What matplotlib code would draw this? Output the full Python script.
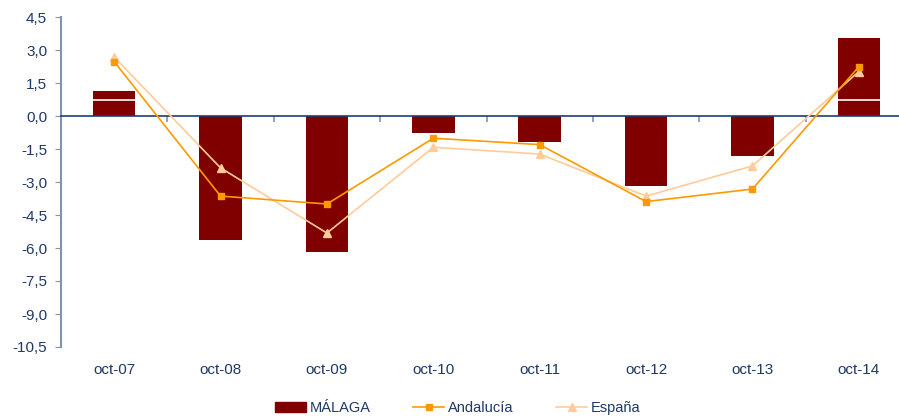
import matplotlib
matplotlib.use("Agg")
import matplotlib.pyplot as plt
import matplotlib.transforms as mtransforms
from matplotlib.patches import Patch
from matplotlib.lines import Line2D

categories = ["oct-07", "oct-08", "oct-09", "oct-10", "oct-11", "oct-12", "oct-13", "oct-14"]
malaga = [1.14, -5.64, -6.18, -0.76, -1.17, -3.17, -1.80, 3.55]
andalucia = [2.47, -3.64, -4.00, -1.01, -1.30, -3.89, -3.32, 2.24]
espana = [2.68, -2.36, -5.32, -1.42, -1.73, -3.64, -2.27, 2.02]
yticks = [4.5, 3.0, 1.5, 0.0, -1.5, -3.0, -4.5, -6.0, -7.5, -9.0, -10.5]

text_color = "#1F3864"
plt.rcParams['font.family'] = ['Liberation Sans', 'DejaVu Sans']
FS = 11

fig = plt.figure(figsize=(8.99, 4.16), dpi=100)
ax = fig.add_axes([61/899, 1-347/416, 851/899, (347-17)/416])

x = list(range(len(categories)))
ax.bar(x, malaga, width=0.40, color="#800000", zorder=2)
# thin white line inside positive bars
for xi, v in zip(x, malaga):
    if v > 0.73:
        ax.plot([xi-0.2, xi+0.2], [0.73, 0.73], color="white", lw=1.2, zorder=2.5)
ax.plot(x, espana, color="#FFCC99", lw=1.2, marker="^", ms=6, zorder=3)
ax.plot(x, andalucia, color="#FF9900", lw=1.2, marker="s", ms=5, zorder=4)

ax.set_xlim(-0.5, 7.5)
ax.set_ylim(-10.5, 4.5)
ax.set_yticks(yticks)
ax.set_yticklabels([f"{v:.1f}".replace(".", ",") for v in yticks], color=text_color, fontsize=FS)
ax.tick_params(axis='y', direction='out', length=4, color="#7F93AE", pad=6)

for s in ["top", "right"]:
    ax.spines[s].set_visible(False)
ax.spines['left'].set_color("#7F93AE")
ax.spines['left'].set_linewidth(1.5)
ax.spines['bottom'].set_position(('data', 0))
ax.spines['bottom'].set_color("#1F3F6F")
ax.spines['bottom'].set_linewidth(1.2)
ax.set_xticks([i + 0.5 for i in range(len(categories))])
ax.set_xticklabels([])
ax.tick_params(axis='x', direction='out', length=4, color="#7F93AE", width=1.2)

trans = mtransforms.blended_transform_factory(ax.transData, fig.transFigure)
for xi, c in zip(x, categories):
    ax.text(xi, 1-370/416, c, transform=trans, ha='center', va='center', color=text_color, fontsize=FS)

handles = [Patch(color="#800000"),
           Line2D([], [], color="#FF9900", marker="s", ms=5, lw=1.2),
           Line2D([], [], color="#FFCC99", marker="^", ms=6, lw=1.2)]
fig.legend(handles, ["MÁLAGA", "Andalucía", "España"], ncol=3, frameon=False,
           loc='center', bbox_to_anchor=(458/899, 1-408/416), fontsize=10.5,
           labelcolor=text_color, handlelength=2.1, columnspacing=2.9, handletextpad=0.3)

fig.savefig("out.png", dpi=100)
